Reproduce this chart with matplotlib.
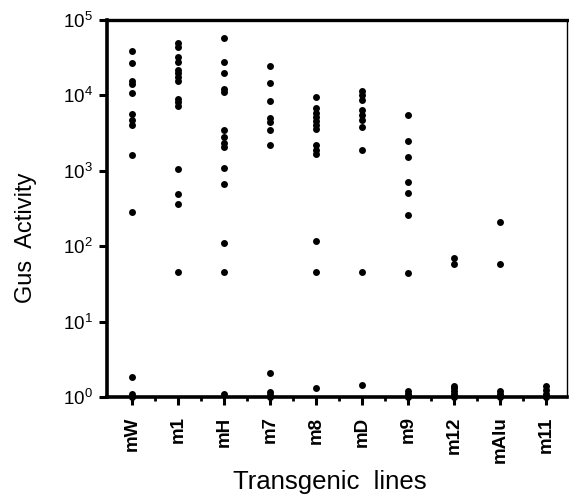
import matplotlib
matplotlib.use("Agg")
import matplotlib.pyplot as plt
from matplotlib.ticker import LogLocator, NullLocator, FixedLocator

plt.rcParams['font.family'] = ['Liberation Sans', 'DejaVu Sans']
plt.rcParams['mathtext.default'] = 'regular'

categories = ["mW", "m1", "mH", "m7", "m8", "mD", "m9", "m12", "mAlu", "m11"]

mW = [38800, 26700, 15500, 14200, 10900, 5610, 4720, 4050, 1620, 280, 1.86, 1.08, 1.0]
m1 = [50000, 44200, 32600, 27700, 21700, 20000, 17700, 15500, 8880, 8250, 7230, 1050, 495, 360, 45.9]
mH = [57700, 27500, 20000, 12000, 11100, 3510, 2850, 2370, 2040, 1080, 668, 109, 45.9, 1.1]
m7 = [24500, 14500, 8350, 4970, 4440, 3480, 2220, 2.08, 1.15, 1.05, 1.0]
m8 = [9440, 6740, 5900, 5220, 4620, 4050, 3550, 2200, 1890, 1670, 118, 45.9, 1.3]
mD = [11500, 10100, 8690, 6400, 5500, 4720, 3850, 1890, 45.9, 1.44]
m9 = [5500, 2450, 1540, 700, 503, 262, 44.5, 1.2, 1.1, 1.0]
m12 = [69, 58, 1.4, 1.3, 1.2, 1.1, 1.0]
mAlu = [207, 58, 1.2, 1.1, 1.0]
m11 = [1.4, 1.25, 1.1, 1.0]

series = [mW, m1, mH, m7, m8, mD, m9, m12, mAlu, m11]

fig = plt.figure(figsize=(5.69, 4.97), dpi=100)
ax = fig.add_axes([107/569, 1-397/497, 460/569, 377/497])

for i, vals in enumerate(series, start=1):
    ax.plot([i]*len(vals), vals, 'o', color='black', markersize=5.0,
            markeredgewidth=0, clip_on=False)

ax.set_yscale('log')
ax.set_ylim(1, 1e5)
ax.set_xlim(0.46, 10.46)
ax.yaxis.set_major_locator(LogLocator(base=10, numticks=10))
ax.yaxis.set_minor_locator(NullLocator())

ax.set_xticks(range(1, len(categories)+1))
ax.set_xticklabels(categories, rotation=90, fontsize=13.5, fontweight='bold')
ax.xaxis.set_minor_locator(FixedLocator([i + 0.5 for i in range(1, len(categories))]))

ax.tick_params(axis='y', which='major', direction='out', length=6, width=2.2, labelsize=13.5, pad=4)
ax.tick_params(axis='x', which='major', direction='out', length=6, width=2.2, pad=8)
ax.tick_params(axis='x', which='minor', direction='out', length=3, width=2)

for s in ['left', 'bottom']:
    ax.spines[s].set_linewidth(2.6)
ax.spines['top'].set_linewidth(2.4)
ax.spines['right'].set_linewidth(1.0)

fig.text(330/569, 1-489/497, 'Transgenic  lines', fontsize=18.5, ha='center', va='baseline')
fig.text(26/569, 1-238/497, 'Gus  Activity', fontsize=17, rotation=90, ha='center', va='center')

fig.savefig('out.png', dpi=100)
